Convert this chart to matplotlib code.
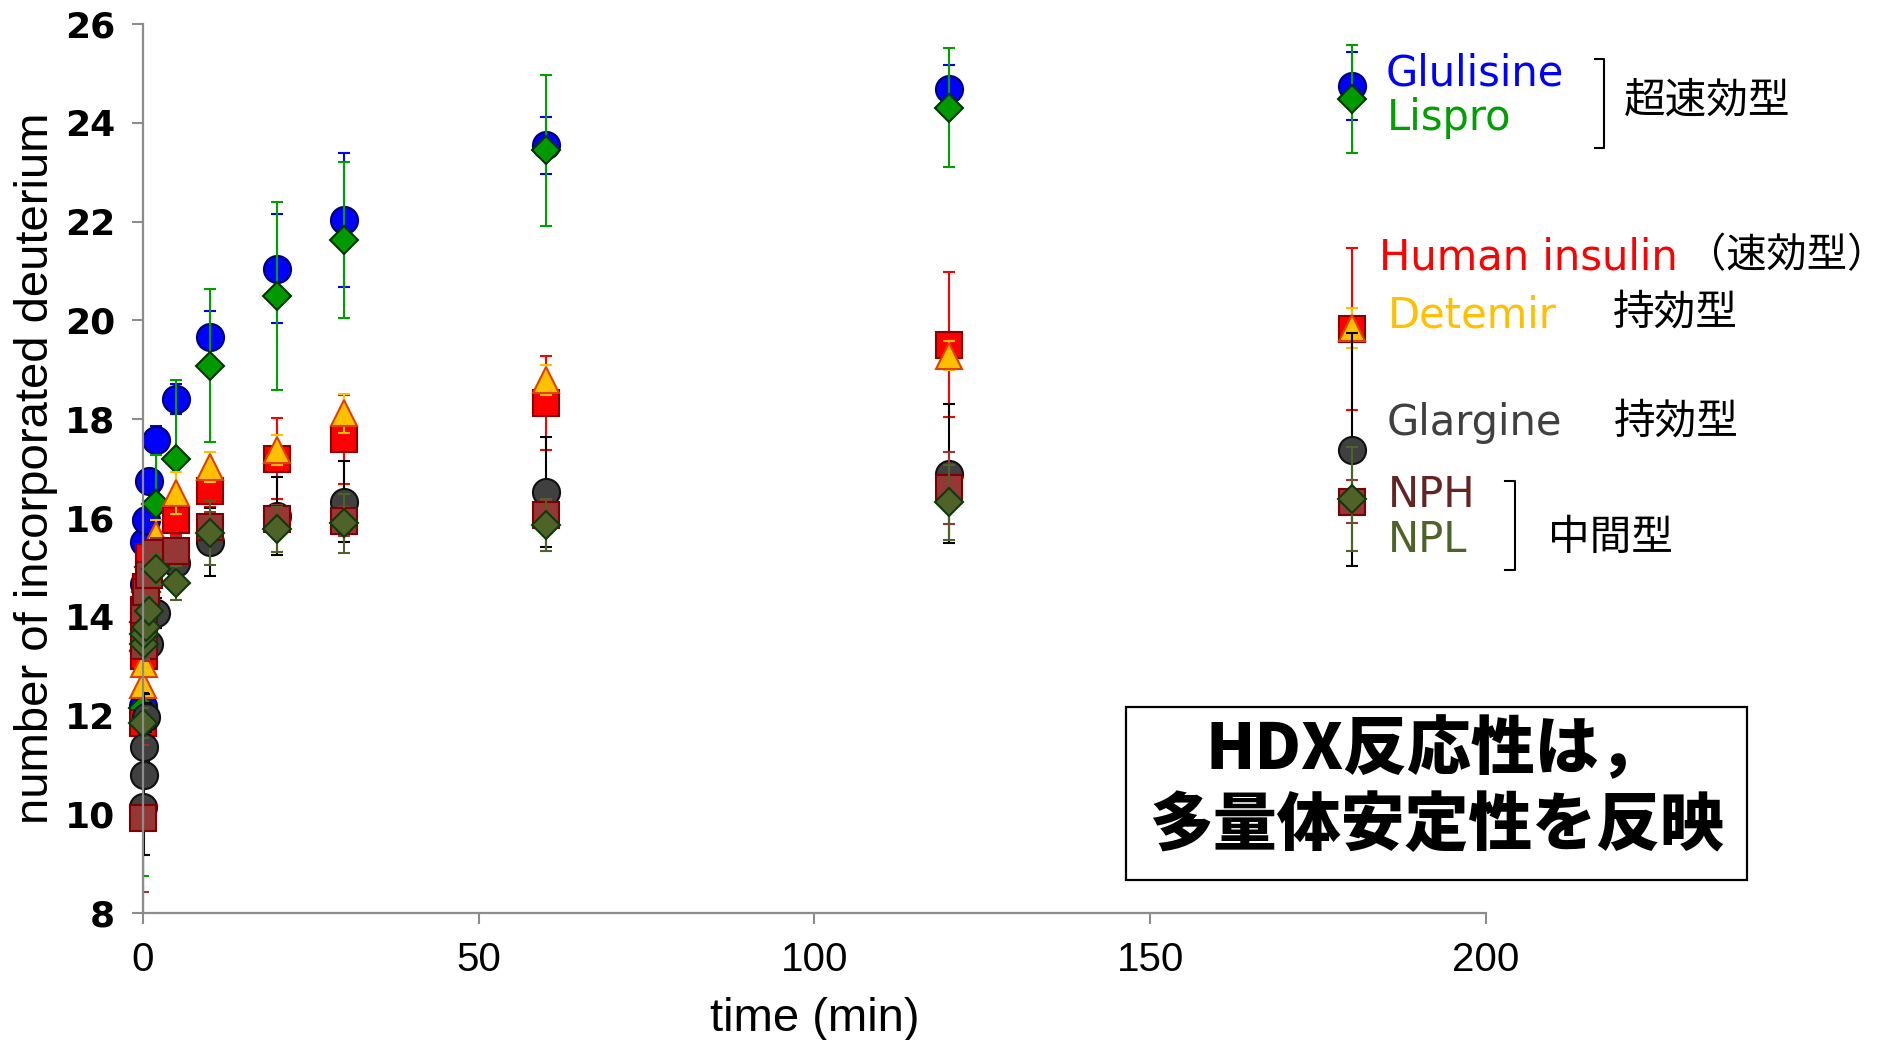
import matplotlib
matplotlib.use("Agg")
import matplotlib.pyplot as plt
from matplotlib.lines import Line2D
from matplotlib.patches import Rectangle

# sampling times (min)
times = [0.083, 0.167, 0.25, 0.5, 1, 2, 5, 10, 20, 30, 60, 120]

# deuterium uptake (mean) and SD for every insulin
glulisine = [12.2, 14.66, 15.52, 15.95, 16.74, 17.57, 18.41, 19.67, 21.05, 22.03, 23.55, 24.68]
glulisine_sd = [0.2, 0.2, 0.2, 0.2, 0.2, 0.3, 0.3, 0.53, 1.1, 1.36, 0.58, 0.5]
lispro = [12.15, 13.3, 13.9, 14.5, 15.0, 16.28, 17.2, 19.08, 20.5, 21.63, 23.45, 24.31]
lispro_sd = [3.4, 0.5, 0.5, 0.5, 0.5, 1.0, 1.59, 1.55, 1.9, 1.57, 1.53, 1.2]
human = [11.85, 13.2, 13.9, 14.6, 15.2, 15.29, 15.96, 16.55, 17.2, 17.59, 18.33, 19.51]
human_sd = [0.3, 0.3, 0.3, 0.3, 0.3, 0.3, 0.3, 0.32, 0.82, 0.9, 0.96, 1.47]
detemir = [12.62, 13.05, 13.6, 14.2, 15.0, 15.66, 16.51, 17.03, 17.38, 18.12, 18.8, 19.29]
detemir_sd = [0.2, 0.2, 0.2, 0.2, 0.2, 0.3, 0.42, 0.3, 0.3, 0.39, 0.3, 0.3]
glargine = [10.15, 10.8, 11.37, 11.96, 13.45, 14.07, 15.08, 15.52, 16.05, 16.33, 16.53, 16.9]
glargine_sd = [2.3, 1.63, 0.3, 0.3, 0.3, 0.3, 0.3, 0.69, 0.79, 0.82, 1.12, 1.4]
nph = [9.92, 13.4, 14.14, 14.5, 14.85, 15.3, 15.34, 15.82, 15.97, 15.93, 16.06, 16.6]
nph_sd = [1.49, 0.3, 0.3, 0.3, 0.3, 0.3, 0.3, 0.3, 0.3, 0.3, 0.3, 0.73]
npl = [11.85, 13.45, 13.65, 13.8, 14.12, 14.97, 14.68, 15.7, 15.77, 15.89, 15.86, 16.32]
npl_sd = [0.3, 0.3, 0.3, 0.3, 0.3, 0.3, 0.35, 0.65, 0.45, 0.6, 0.52, 0.76]

# the "legend" in the original is a set of extra points drawn at t = 180 min
legend_time = 180
legend_y = [24.75, 24.48, 19.83, 19.85, 17.38, 16.33, 16.39]
legend_sd = [0.69, 1.09, 1.64, 0.4, 2.36, 0.43, 1.05]

names = ["Glulisine", "Lispro", "Human insulin", "Detemir", "Glargine", "NPH", "NPL"]
means = [glulisine, lispro, human, detemir, glargine, nph, npl]
sds = [glulisine_sd, lispro_sd, human_sd, detemir_sd, glargine_sd, nph_sd, npl_sd]

# marker, size, face, edge, errorbar colour, label colour
styles = [
    ("o", 19.5, "#0000FF", "#000070", "#0000FF", "#0000FF"),
    ("D", 13.8, "#009900", "#003300", "#00A000", "#00A000"),
    ("s", 19.0, "#FF0000", "#8B0000", "#FF0000", "#FF0000"),
    ("^", 19.0, "#FFC000", "#E04000", "#FFC000", "#FFC000"),
    ("o", 19.5, "#404040", "#101010", "#000000", "#404040"),
    ("s", 19.0, "#953735", "#7F0000", "#953735", "#632523"),
    ("D", 13.8, "#4F6228", "#0D3A0D", "#4F6228", "#4F6228"),
]

W, H = 1896, 1040
fig = plt.figure(figsize=(W / 100, H / 100), dpi=100)
ax = fig.add_axes([142.7 / W, 1 - 913 / H, (1486 - 142.7) / W, (913 - 24.2) / H])

def fx(px):
    return px / W

def fy(py):
    return 1 - py / H

for i in range(len(names)):
    mk, ms, fc, ec, erc, lc = styles[i]
    xs = times + [legend_time]
    ys = means[i] + [legend_y[i]]
    es = sds[i] + [legend_sd[i]]
    ax.errorbar(xs, ys, yerr=es, fmt="none", ecolor=erc, elinewidth=1.5,
                capsize=4.3, capthick=1.5)
    ax.plot(xs, ys, linestyle="none", marker=mk, markersize=ms,
            markerfacecolor=fc, markeredgecolor=ec, markeredgewidth=1.5,
            clip_on=False)

ax.set_xlim(0, 200)
ax.set_ylim(8, 26)
ax.set_xticks([0, 50, 100, 150, 200])
ax.set_yticks(range(8, 27, 2))
for s in ["top", "right"]:
    ax.spines[s].set_visible(False)
for s in ["left", "bottom"]:
    ax.spines[s].set_color("#8c8c8c")
    ax.spines[s].set_linewidth(1.6)
ax.tick_params(direction="out", color="#8c8c8c", width=1.5, length=8)
ax.tick_params(axis="x", pad=12)
ax.tick_params(axis="y", pad=12)
for lab in ax.get_xticklabels():
    lab.set_fontfamily(["Liberation Sans Narrow", "Liberation Sans"])
    lab.set_fontsize(29)
for lab in ax.get_yticklabels():
    lab.set_fontfamily("DejaVu Sans")
    lab.set_fontweight("bold")
    lab.set_fontsize(26)

fig.text(fx(36), fy(468.6), "number of incorporated deuterium", rotation=90,
         ha="center", va="center", fontsize=34,
         family=["Liberation Sans Narrow", "Liberation Sans"])
fig.text(fx(815), fy(1019), "time (min)", ha="center", va="center", fontsize=34,
         family=["Liberation Sans Narrow", "Liberation Sans"])

# legend texts
label_pos = [(1386, 85), (1387, 130), (1379, 270), (1388, 328), (1387, 435), (1388, 507), (1388, 552)]
for i, (px, py) in enumerate(label_pos):
    fig.text(fx(px), fy(py), names[i], color=styles[i][5], fontsize=30,
             family="DejaVu Sans", ha="left", va="baseline")

jp = ["Noto Sans CJK JP", "DejaVu Sans"]
groups = [("超速効型", 1624, 113, 30), ("（速効型）", 1686, 267, 29), ("持効型", 1613, 325, 30),
          ("持効型", 1614, 434, 30), ("中間型", 1548, 550, 30)]
for txt, px, py, fs in groups:
    fig.text(fx(px), fy(py), txt, fontsize=fs, family=jp, ha="left", va="baseline")

# brackets
for xv, xl, y0, y1 in [(1604, 1595, 59, 148), (1515, 1505, 481, 570)]:
    fig.add_artist(Line2D([fx(xl), fx(xv), fx(xv), fx(xl)], [fy(y0), fy(y0), fy(y1), fy(y1)],
                          color="black", lw=1.5))

# message box
fig.add_artist(Rectangle((fx(1126), fy(880)), fx(1747) - fx(1126), fy(707) - fy(880),
                         fill=False, edgecolor="black", lw=1.6))
fig.text(fx(1434), fy(750), "HDX反応性は，", fontsize=46, fontweight="black", family=jp,
         ha="center", va="center")
fig.text(fx(1436), fy(826), "多量体安定性を反映", fontsize=46, fontweight="black", family=jp,
         ha="center", va="center")

fig.savefig("out.png", dpi=100)
